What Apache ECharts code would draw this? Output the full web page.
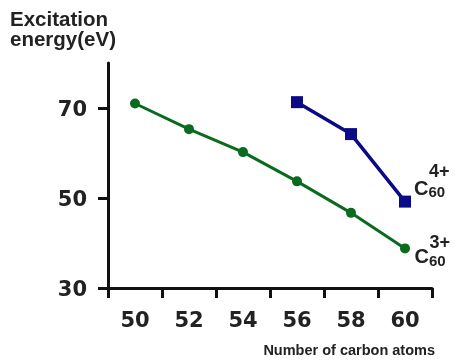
<!DOCTYPE html>
<html>
<head>
<meta charset="utf-8">
<script src="https://cdn.jsdelivr.net/npm/echarts@6/dist/echarts.min.js"></script>
<style>html,body{margin:0;padding:0;background:#fff;}#c{width:455px;height:362px;}</style>
</head>
<body>
<div id="c"></div>
<script>
var categories = ['50', '52', '54', '56', '58', '60'];
var c60_3plus = [71.0, 65.3, 60.2, 53.7, 46.7, 38.8];
var c60_4plus = [null, null, null, 71.3, 64.2, 49.2];
var yTicks = [30, 50, 70];

var chart = echarts.init(document.getElementById('c'), null, {renderer: 'canvas'});
var axisFont = 'DejaVu Sans';
var labelFont = 'Liberation Sans, Arial, sans-serif';

function endLabel(data, sup, supLineHeight, distance, dy) {
  return data.map(function (v, i) {
    if (i !== data.length - 1) return v;
    return {
      value: v,
      label: {
        show: true,
        position: 'right',
        distance: distance,
        offset: [0, dy],
        align: 'left',
        formatter: '{s|' + sup + '}\n{c|C}{b|60}',
        rich: {
          s: {fontFamily: labelFont, fontWeight: 'bold', fontSize: 18, lineHeight: supLineHeight, color: '#222', padding: [0, 0, 0, 15]},
          c: {fontFamily: labelFont, fontWeight: 'bold', fontSize: 20, lineHeight: 20, color: '#222', padding: [0, 0, 3, 0]},
          b: {fontFamily: labelFont, fontWeight: 'bold', fontSize: 15, lineHeight: 15, color: '#222', verticalAlign: 'bottom'}
        }
      }
    };
  });
}

chart.setOption({
  animation: false,
  backgroundColor: '#fff',
  title: [
    {text: 'Excitation\nenergy(eV)', left: 10, top: 10, padding: 0,
     textStyle: {fontFamily: labelFont, fontWeight: 'bold', fontSize: 20.5, lineHeight: 20, color: '#222'}},
    {text: 'Number of carbon atoms', right: 20, top: 343, padding: 0,
     textStyle: {fontFamily: labelFont, fontWeight: 'bold', fontSize: 14.5, lineHeight: 15, color: '#222'}}
  ],
  grid: {left: 108, right: 23, top: 63, bottom: 74, containLabel: false},
  xAxis: {
    type: 'category',
    data: categories,
    boundaryGap: true,
    axisLine: {lineStyle: {color: '#111', width: 3}},
    axisTick: {show: true, length: 10, lineStyle: {color: '#111', width: 3}},
    axisLabel: {fontFamily: axisFont, fontWeight: 'bold', fontSize: 21, color: '#222', margin: 23},
    splitLine: {show: false}
  },
  yAxis: {
    type: 'value',
    min: 30,
    max: 80,
    axisLine: {show: true, lineStyle: {color: '#111', width: 3}},
    axisTick: {show: true, length: 10, customValues: yTicks, lineStyle: {color: '#111', width: 3}},
    axisLabel: {
      customValues: yTicks, margin: 21,
      formatter: '{v|{value}}',
      rich: {v: {fontFamily: axisFont, fontWeight: 'bold', fontSize: 21, color: '#222', padding: [6, 0, 0, 0]}}
    },
    splitLine: {show: false}
  },
  series: [
    {
      name: 'C60 3+',
      type: 'line',
      data: endLabel(c60_3plus, '3+', 12, 4.5, 5),
      symbol: 'circle',
      symbolSize: 10,
      lineStyle: {color: '#0a6b1f', width: 3},
      itemStyle: {color: '#0a6b1f'},
      z: 2
    },
    {
      name: 'C60 4+',
      type: 'line',
      data: endLabel(c60_4plus, '4+', 18, 3, -20),
      symbol: 'rect',
      symbolSize: 12,
      lineStyle: {color: '#0b0b86', width: 3.5},
      itemStyle: {color: '#0b0b86'},
      z: 3
    }
  ]
});
</script>
</body>
</html>
